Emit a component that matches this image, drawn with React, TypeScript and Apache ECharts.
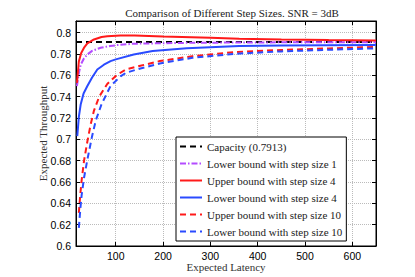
import React, { useEffect, useRef } from "react";
import * as echarts from "echarts";

const xTicks = [100, 200, 300, 400, 500, 600];

const capacityX = [16, 650];
const capacityY = [0.7913, 0.7913];

const lb1X = [18, 22, 26, 33, 40, 50, 68, 88, 103, 138, 178, 250, 350, 450, 550, 650];
const lb1Y = [0.75, 0.762, 0.77, 0.776, 0.7796, 0.783, 0.7859, 0.7875, 0.7884, 0.7897, 0.79, 0.7905, 0.7908, 0.791, 0.791, 0.791];

const ub4X = [18, 22, 27, 33, 40, 54, 70, 82, 110, 140, 200, 300, 361, 450, 550, 650];
const ub4Y = [0.753, 0.773, 0.781, 0.786, 0.79, 0.7937, 0.796, 0.7968, 0.7975, 0.7975, 0.7965, 0.7952, 0.7943, 0.7937, 0.7932, 0.7928];

const lb4X = [18.7, 22, 26, 32, 40, 50, 61, 75, 89, 100, 138, 178, 250, 361, 450, 550, 650];
const lb4Y = [0.703, 0.721, 0.733, 0.743, 0.75, 0.758, 0.7655, 0.77, 0.7734, 0.775, 0.7796, 0.7828, 0.7855, 0.7875, 0.788, 0.7883, 0.7885];

const ub10X = [22, 25, 28, 33, 40, 47, 54, 65, 82, 103, 122, 152, 193, 262, 354, 450, 550, 650];
const ub10Y = [0.631, 0.648, 0.662, 0.68, 0.698, 0.714, 0.727, 0.74, 0.752, 0.7606, 0.7656, 0.769, 0.7734, 0.778, 0.782, 0.7838, 0.7853, 0.7867];

const lb10X = [22, 25, 28, 33, 40, 50, 58, 70, 89, 110, 122, 152, 193, 262, 354, 450, 550, 650];
const lb10Y = [0.617, 0.634, 0.648, 0.664, 0.681, 0.703, 0.718, 0.733, 0.75, 0.759, 0.7625, 0.7665, 0.7712, 0.7765, 0.7803, 0.7825, 0.784, 0.7854];

const names = [
  "Capacity (0.7913)",
  "Lower bound with step size 1",
  "Upper bound with step size 4",
  "Lower bound with step size 4",
  "Upper bound with step size 10",
  "Lower bound with step size 10",
];

const zip = (xs: number[], ys: number[]) => xs.map((x, i) => [x, ys[i]]);

const serif = "'Liberation Serif', 'DejaVu Serif', serif";
const sans = "'Liberation Sans', Arial, sans-serif";

export default function App() {
  const ref = useRef<HTMLDivElement>(null);
  useEffect(() => {
    if (!ref.current) return;
    const chart = echarts.init(ref.current, undefined, { renderer: "svg" });
    const mk = (name: string, data: number[][], color: string, type: any) => ({
      name,
      type: "line",
      data,
      symbol: "none",
      smooth: false,
      lineStyle: { color, width: 2, type },
      itemStyle: { color },
    });
    const tickStyle = { inside: true, length: 4, lineStyle: { color: "#000" } };
    const option: any = {
      animation: false,
      backgroundColor: "#fff",
      title: {
        text: "Comparison of Different Step Sizes. SNR = 3dB",
        left: 227,
        top: 2,
        textAlign: "center",
        textStyle: { fontFamily: serif, fontWeight: "normal", fontSize: 11, color: "#222" },
      },
      grid: {
        left: 76,
        right: 39,
        top: 21,
        bottom: 31,
        show: true,
        borderColor: "#000",
        borderWidth: 1,
        backgroundColor: "transparent",
      },
      legend: {
        orient: "vertical",
        left: 176,
        top: 137,
        backgroundColor: "#fff",
        borderColor: "#000",
        borderWidth: 1,
        borderRadius: 0,
        padding: [4, 4, 4, 3],
        itemWidth: 22,
        itemHeight: 10,
        itemGap: 6,
        itemStyle: { opacity: 0, borderWidth: 0 },
        textStyle: { fontFamily: serif, fontSize: 11, color: "#222" },
        data: names,
      },
      xAxis: [
        {
          type: "value",
          min: 16,
          max: 650,
          name: "Expected Latency",
          nameLocation: "middle",
          nameGap: 15,
          nameMoveOverlap: false,
          nameTextStyle: { fontFamily: serif, fontSize: 11, lineHeight: 11, color: "#333" },
          axisLine: { show: true, lineStyle: { color: "#000" } },
          axisTick: { ...tickStyle, customValues: xTicks },
          axisLabel: { customValues: xTicks, fontFamily: sans, fontSize: 10.5, lineHeight: 11, color: "#000", margin: 4 },
          splitLine: { show: true, lineStyle: { color: "#bbb", type: "dotted" } },
        },
        {
          type: "value",
          position: "top",
          min: 16,
          max: 650,
          axisLine: { show: true, lineStyle: { color: "#000" } },
          axisTick: { ...tickStyle, customValues: xTicks },
          axisLabel: { show: false },
          splitLine: { show: false },
        },
      ],
      yAxis: [
        {
          type: "value",
          min: 0.6,
          max: 0.811,
          interval: 0.02,
          name: "Expected Throughput",
          nameLocation: "middle",
          nameGap: 28,
          nameMoveOverlap: false,
          nameTextStyle: { fontFamily: serif, fontSize: 11, lineHeight: 11, color: "#333" },
          axisLine: { show: true, lineStyle: { color: "#000" } },
          axisTick: tickStyle,
          axisLabel: { fontFamily: sans, fontSize: 10.5, color: "#000", margin: 5, showMaxLabel: false },
          splitLine: { show: true, lineStyle: { color: "#bbb", type: "dotted" } },
        },
        {
          type: "value",
          position: "right",
          min: 0.6,
          max: 0.811,
          interval: 0.02,
          axisLine: { show: true, lineStyle: { color: "#000" } },
          axisTick: tickStyle,
          axisLabel: { show: false },
          splitLine: { show: false },
        },
      ],
      series: [
        mk(names[0], zip(capacityX, capacityY), "#000000", [6, 4]),
        mk(names[1], zip(lb1X, lb1Y), "#b44cff", [6, 2, 1.5, 2]),
        mk(names[2], zip(ub4X, ub4Y), "#ff1a1a", "solid"),
        mk(names[3], zip(lb4X, lb4Y), "#2a4bff", "solid"),
        mk(names[4], zip(ub10X, ub10Y), "#ff1a1a", [6, 4]),
        mk(names[5], zip(lb10X, lb10Y), "#2a4bff", [6, 4]),
      ],
    };
    chart.setOption(option);
    return () => chart.dispose();
  }, []);
  return (
    <div
      ref={ref}
      style={{ position: "fixed", left: 0, top: 0, width: 415, height: 277, background: "#fff" }}
    />
  );
}
